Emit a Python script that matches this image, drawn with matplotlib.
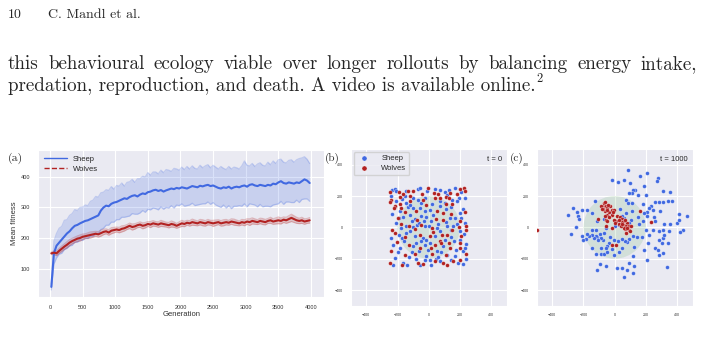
import matplotlib
matplotlib.use('Agg')
import matplotlib.pyplot as plt
from matplotlib.lines import Line2D
from matplotlib.patches import Circle
import numpy as np
import seaborn as sns

# ---- panel (a): mean fitness per generation (every 40 generations from 20) ----
sheep_mean = [40, 150, 175, 185, 195, 205, 215, 222, 232, 240,
              243, 248, 252, 256, 258, 262, 266, 270, 274, 290,
              300, 306, 304, 312, 316, 318, 322, 326, 330, 328,
              334, 338, 340, 336, 342, 346, 344, 350, 352, 356,
              358, 354, 357, 352, 356, 359, 362, 360, 364, 362,
              366, 364, 362, 366, 370, 368, 366, 371, 369, 372,
              374, 370, 372, 368, 364, 362, 366, 364, 368, 362,
              366, 368, 366, 370, 372, 368, 374, 376, 372, 370,
              374, 372, 370, 374, 372, 378, 376, 382, 386, 380,
              378, 382, 380, 378, 382, 380, 386, 392, 388, 380]
sheep_hi = [50, 190, 215, 232, 238, 258, 260, 274, 280, 293,
            290, 300, 301, 308, 306, 320, 324, 336, 334, 348,
            350, 358, 356, 368, 360, 372, 370, 380, 370, 382,
            384, 392, 382, 394, 394, 402, 400, 414, 406, 416,
            416, 410, 422, 414, 424, 422, 418, 428, 426, 422,
            432, 424, 434, 426, 436, 428, 426, 438, 430, 436,
            440, 430, 438, 432, 426, 434, 428, 424, 434, 426,
            432, 430, 426, 436, 452, 438, 436, 444, 434, 442,
            446, 438, 436, 448, 440, 452, 444, 456, 458, 448,
            446, 454, 456, 448, 456, 460, 462, 466, 458, 444]
sheep_lo = [30, 115, 135, 147, 150, 162, 166, 174, 176, 187,
            186, 194, 192, 200, 198, 206, 206, 214, 214, 228,
            232, 242, 242, 252, 252, 260, 260, 268, 268, 270,
            272, 280, 278, 278, 282, 290, 284, 294, 292, 298,
            296, 292, 302, 294, 300, 298, 306, 298, 308, 306,
            312, 304, 306, 308, 314, 306, 308, 310, 312, 312,
            318, 310, 316, 308, 304, 300, 308, 298, 306, 296,
            304, 304, 306, 304, 312, 302, 312, 310, 308, 302,
            310, 302, 304, 304, 302, 308, 310, 312, 320, 310,
            318, 318, 316, 316, 324, 316, 326, 328, 328, 320]
wolves_mean = [150, 152, 150, 158, 165, 172, 178, 185, 190, 194,
               198, 200, 204, 206, 208, 210, 212, 214, 212, 216,
               220, 222, 218, 224, 226, 228, 226, 230, 232, 236,
               240, 236, 238, 242, 244, 240, 242, 246, 244, 248,
               246, 244, 248, 246, 244, 242, 246, 244, 240, 244,
               248, 246, 250, 248, 252, 250, 248, 252, 250, 248,
               252, 250, 248, 250, 252, 248, 250, 252, 250, 254,
               252, 250, 248, 252, 250, 254, 252, 256, 254, 252,
               256, 254, 252, 256, 258, 254, 256, 258, 256, 260,
               258, 262, 266, 262, 258, 256, 258, 254, 256, 258]
wolves_spread = [4, 6, 8, 8, 9, 9, 10, 10, 9, 9,
                 9, 10, 9, 8, 9, 10, 9, 8, 9, 10,
                 9, 8, 9, 10, 9, 8, 9, 10, 9, 8,
                 9, 10, 9, 8, 9, 10, 9, 8, 10, 9,
                 8, 9, 10, 9, 8, 9, 10, 9, 8, 9,
                 10, 9, 8, 9, 10, 9, 8, 9, 10, 9,
                 9, 8, 10, 9, 8, 9, 10, 9, 8, 9,
                 10, 9, 8, 9, 10, 9, 11, 10, 9, 8,
                 9, 10, 9, 8, 10, 9, 10, 11, 10, 9,
                 10, 11, 12, 11, 10, 9, 10, 9, 8, 9]
generation = np.arange(len(sheep_mean)) * 40 + 20

# ---- panel (b): positions at t = 0 ----
sheep_b = [(-235, 240), (-218, 244), (-207, 229), (-147, 229), (-100, 187), (-68, 246),
           (-58, 250), (-26, 187), (71, 240), (103, 225), (118, 208), (167, 250),
           (209, 223), (194, 187), (-207, 170), (-169, 178), (-143, 155), (-68, 176),
           (-47, 155), (24, 149), (71, 166), (103, 155), (152, 176), (182, 166),
           (220, 119), (-233, 85), (-182, 102), (-132, 127), (-100, 123), (-58, 123),
           (-26, 102), (6, 113), (71, 134), (109, 119), (135, 59), (199, 91),
           (231, 28), (-165, 64), (-122, 81), (-90, 55), (-47, 70), (-15, 64),
           (17, 38), (109, 32), (156, 6), (182, 21), (-207, 28), (-175, -4),
           (-143, 6), (-100, 0), (-75, 17), (-26, 6), (2, 6), (53, -4),
           (71, -25), (145, -15), (203, -25), (224, -42), (-190, -47), (-169, -68),
           (-143, -36), (-122, -25), (-90, -57), (-36, -68), (-15, -79), (38, -57),
           (103, -79), (162, -85), (199, -79), (241, -106), (-229, -110), (-186, -132),
           (-100, -121), (-79, -100), (-26, -110), (-4, -142), (53, -149), (81, -157),
           (173, -142), (220, -149), (-218, -195), (-229, -238), (-165, -227), (-126, -191),
           (-79, -200), (-58, -238), (-26, -206), (6, -206), (17, -238), (45, -200),
           (75, -212), (118, -174), (145, -206), (188, -227), (241, -200), (-60, 30),
           (30, 80), (-120, 140), (140, 130), (-60, -150), (90, -120), (170, 60),
           (-240, 200), (-150, 200), (-10, 230), (40, 245), (130, 240), (230, 190),
           (-190, 60), (-110, 40), (-30, 40), (60, 20), (120, 10), (210, 60),
           (-240, -70), (-160, -90), (-50, -90), (10, -100), (140, -60), (230, -130),
           (-200, -160), (-110, -160), (-20, -180), (60, -190), (170, -180), (220, -235),
           (-140, -240)]
wolves_b = [(-250, 225), (-192, 225), (-165, 212), (-132, 229), (-122, 197), (-43, 212),
            (-4, 250), (32, 219), (75, 187), (109, 191), (130, 187), (139, 219),
            (199, 244), (224, 250), (233, 229), (-244, 176), (-186, 191), (-218, 134),
            (-182, 149), (-122, 166), (-36, 176), (38, 187), (-224, 123), (-175, 123),
            (-83, 106), (53, 102), (92, 91), (141, 85), (199, 38), (241, 6),
            (241, -15), (-75, 49), (49, 53), (92, 45), (-233, -15), (-126, 11),
            (-47, 17), (24, -4), (88, -47), (120, -47), (192, 0), (-218, -36),
            (-58, -47), (6, -57), (71, -85), (81, -100), (130, -100), (209, -57),
            (-203, -93), (-126, -110), (-53, -132), (13, -132), (38, -110), (109, -174),
            (139, -132), (199, -132), (-250, -227), (-154, -178), (-68, -227), (-36, -234),
            (38, -217), (92, -227), (156, -217), (199, -206), (-200, 60), (150, 150),
            (-250, 160), (-100, 230), (60, 215), (180, 210), (-150, 100), (-20, 140),
            (110, 150), (230, 100), (-180, 20), (-90, -10), (150, -20), (-150, -60),
            (30, -30), (200, -100), (-240, -150), (-90, -170), (20, -170), (120, -240),
            (240, -170), (-170, -240)]

# ---- panel (c): positions at t = 1000 ----
sheep_c = [(87, 363), (205, 346), (164, 329), (280, 314), (269, 293), (-18, 299),
           (23, 291), (57, 299), (98, 282), (185, 261), (130, 240), (115, 236),
           (108, 219), (147, 208), (89, 219), (200, 208), (312, 229), (357, 223),
           (258, 159), (282, 159), (310, 163), (340, 168), (368, 166), (72, 176),
           (108, 155), (83, 155), (179, 149), (233, 138), (222, 123), (248, 113),
           (207, 96), (190, 91), (293, 102), (-265, 123), (-243, 96), (-233, 70),
           (-226, 53), (-207, 108), (-175, 113), (-147, 91), (-299, 81), (-125, 166),
           (110, 102), (35, 117), (61, 59), (72, 91), (-14, 91), (44, 74),
           (104, 49), (89, 28), (147, 66), (158, 23), (179, 38), (207, 70),
           (250, 66), (258, 38), (318, 23), (355, 23), (400, 28), (415, 87),
           (411, 49), (462, 74), (436, -15), (419, -32), (351, -25), (308, -19),
           (286, -25), (243, -15), (222, -47), (200, -15), (173, -64), (143, -64),
           (115, -57), (93, -74), (78, -96), (65, -89), (44, -74), (23, -89),
           (-3, -79), (-29, -62), (-35, -100), (-50, -117), (-72, -79), (-89, -68),
           (-93, -40), (-115, -62), (-110, -79), (-121, -57), (-132, -68), (-143, -47),
           (-164, -53), (-175, -40), (-185, -74), (-200, -79), (-207, -53), (-250, 2),
           (-282, -40), (-143, -15), (-115, 38), (-68, 53), (-121, -19), (-68, -36),
           (-57, -4), (3, 11), (29, 17), (-18, -138), (-55, -132), (-89, -168),
           (-68, -170), (-121, -168), (-147, -132), (-85, -132), (-46, -159), (-3, -174),
           (25, -159), (50, -132), (125, -125), (190, -146), (211, -100), (258, -132),
           (276, -146), (286, -174), (312, -163), (301, -100), (282, -79), (308, -68),
           (314, -47), (340, -100), (207, -210), (119, -185), (125, -244), (89, -227),
           (78, -270), (115, -291), (50, -259), (18, -259), (57, -318), (-57, -244),
           (-93, -234), (-115, -270), (333, -255)]
wolves_c = [(-78, 134), (-68, 155), (-57, 138), (-46, 123), (-63, 102), (-50, 81),
            (-35, 96), (-20, 108), (-3, 113), (-14, 81), (-35, 66), (-57, 49),
            (-46, 38), (-72, 117), (-89, 138), (-61, 159), (-29, 134), (-8, 96),
            (-63, 70), (18, 70), (35, 66), (50, 53), (61, 38), (44, 32),
            (29, 23), (57, 17), (78, 28), (72, 6), (89, 11), (104, 6),
            (65, -11), (93, -15), (100, -25), (72, -36), (57, -4), (8, 38),
            (-3, 49), (29, 45), (40, 6), (1, 28), (-110, 53), (-20, -4),
            (-57, 6), (-20, -110), (8, -110), (164, 102), (233, 32), (-498, -19),
            (-80, 120), (-52, 110), (48, 20), (82, -5), (66, 44), (-40, 145)]

line1 = 'this behavioural ecology viable over longer rollouts by balancing energy intake,'
line2 = 'predation, reproduction, and death. A video is available online.'

sns.set_style('darkgrid')
plt.rcParams['font.family'] = ['Liberation Sans', 'DejaVu Sans']

blue = '#4169e1'
red = '#b22222'
serif = 'cmr10'

fig = plt.figure(figsize=(7.02, 3.51), dpi=100)
W, H = 702.0, 351.0

# page text around the figure
fig.text(8 / W, 1 - 18 / H, '10', family=serif, fontsize=10, va='baseline')
fig.text(48 / W, 1 - 18 / H, 'C. Mandl et al.', family=serif, fontsize=10, va='baseline')

# first line is justified between the page margins
renderer = fig.canvas.get_renderer()
words = [fig.text(0, 1 - 69 / H, w, family=serif, fontsize=13.7, va='baseline')
         for w in line1.split()]
widths = [t.get_window_extent(renderer).width for t in words]
gap = (689 - sum(widths)) / (len(words) - 1)
x = 8.0
for t, w in zip(words, widths):
    t.set_x(x / W)
    x += w + gap
t2 = fig.text(8 / W, 1 - 91 / H, line2, family=serif, fontsize=13.7, va='baseline')
end2 = 8 + t2.get_window_extent(renderer).width
fig.text((end2 + 1) / W, 1 - 82 / H, '2', family=serif, fontsize=9, va='baseline')

# (a) fitness curves
ax1 = fig.add_axes([0.0546, 0.1547, 0.4069, 0.4179])
wolves_mean = np.array(wolves_mean)
wolves_spread = np.array(wolves_spread)
ax1.fill_between(generation, sheep_lo, sheep_hi, color=blue, alpha=0.2, lw=0)
ax1.plot(generation, sheep_hi, color=blue, alpha=0.25, lw=0.9)
ax1.plot(generation, sheep_lo, color=blue, alpha=0.25, lw=0.9)
ax1.fill_between(generation, wolves_mean - wolves_spread, wolves_mean + wolves_spread,
                 color=red, alpha=0.2, lw=0)
ax1.plot(generation, wolves_mean - wolves_spread, color=red, alpha=0.25, lw=0.8)
ax1.plot(generation, wolves_mean + wolves_spread, color=red, alpha=0.25, lw=0.8)
ax1.plot(generation, sheep_mean, color=blue, lw=1.5)
ax1.plot(generation, wolves_mean, color=red, lw=1.5)
ax1.set_xlim(-179, 4199)
ax1.set_ylim(8, 488)
ax1.set_xticks(np.arange(0, 4001, 500))
ax1.set_yticks([100, 200, 300, 400])
ax1.tick_params(labelsize=4, pad=2.5, colors='#333333')
ax1.set_xlabel('Generation', fontsize=5.5, labelpad=1, color='#333333')
ax1.set_ylabel('Mean fitness', fontsize=5.5, labelpad=2, color='#333333')
handles = [Line2D([], [], color=blue, lw=1), Line2D([], [], color=red, lw=1, ls='--')]
ax1.legend(handles, ['Sheep', 'Wolves'], loc='upper left', frameon=False, fontsize=5.5,
           handlelength=3, borderaxespad=0.3, labelspacing=0.4)

# (b) and (c) positions
def positions(ax, sheep, wolves, label, legend):
    ax.add_patch(Circle((0, 0), 200, color='green', alpha=0.1, lw=0, zorder=1))
    sx, sy = zip(*sheep)
    wx, wy = zip(*wolves)
    ax.scatter(sx, sy, s=8, color=blue, edgecolors='white', linewidths=0.25,
               zorder=3, label='Sheep')
    ax.scatter(wx, wy, s=8, color=red, edgecolors='white', linewidths=0.25,
               zorder=3, label='Wolves')
    ax.set_xlim(-500, 500)
    ax.set_ylim(-500, 500)
    ax.set_xticks([-400, -200, 0, 200, 400])
    ax.set_yticks([-400, -200, 0, 200, 400])
    ax.tick_params(labelsize=2.6, pad=2, colors='#333333')
    ax.text(0.97, 0.955, label, transform=ax.transAxes, ha='right', va='top', fontsize=5.5)
    if legend:
        ax.legend(loc='upper left', fontsize=5.5, markerscale=1.3, borderaxespad=0.4,
                  handletextpad=1.2, labelspacing=0.3, borderpad=0.4)

ax2 = fig.add_axes([0.4996, 0.1291, 0.2222, 0.4464])
positions(ax2, sheep_b, wolves_b, 't = 0', True)
ax3 = fig.add_axes([0.7645, 0.1291, 0.2222, 0.4464])
positions(ax3, sheep_c, wolves_c, 't = 1000', False)

fig.text(8 / W, 1 - 161 / H, '(a)', family=serif, fontsize=8.5, va='baseline')
fig.text(325 / W, 1 - 161 / H, '(b)', family=serif, fontsize=8, va='baseline')
fig.text(510 / W, 1 - 161 / H, '(c)', family=serif, fontsize=8, va='baseline')

fig.savefig('out.png', dpi=100)
